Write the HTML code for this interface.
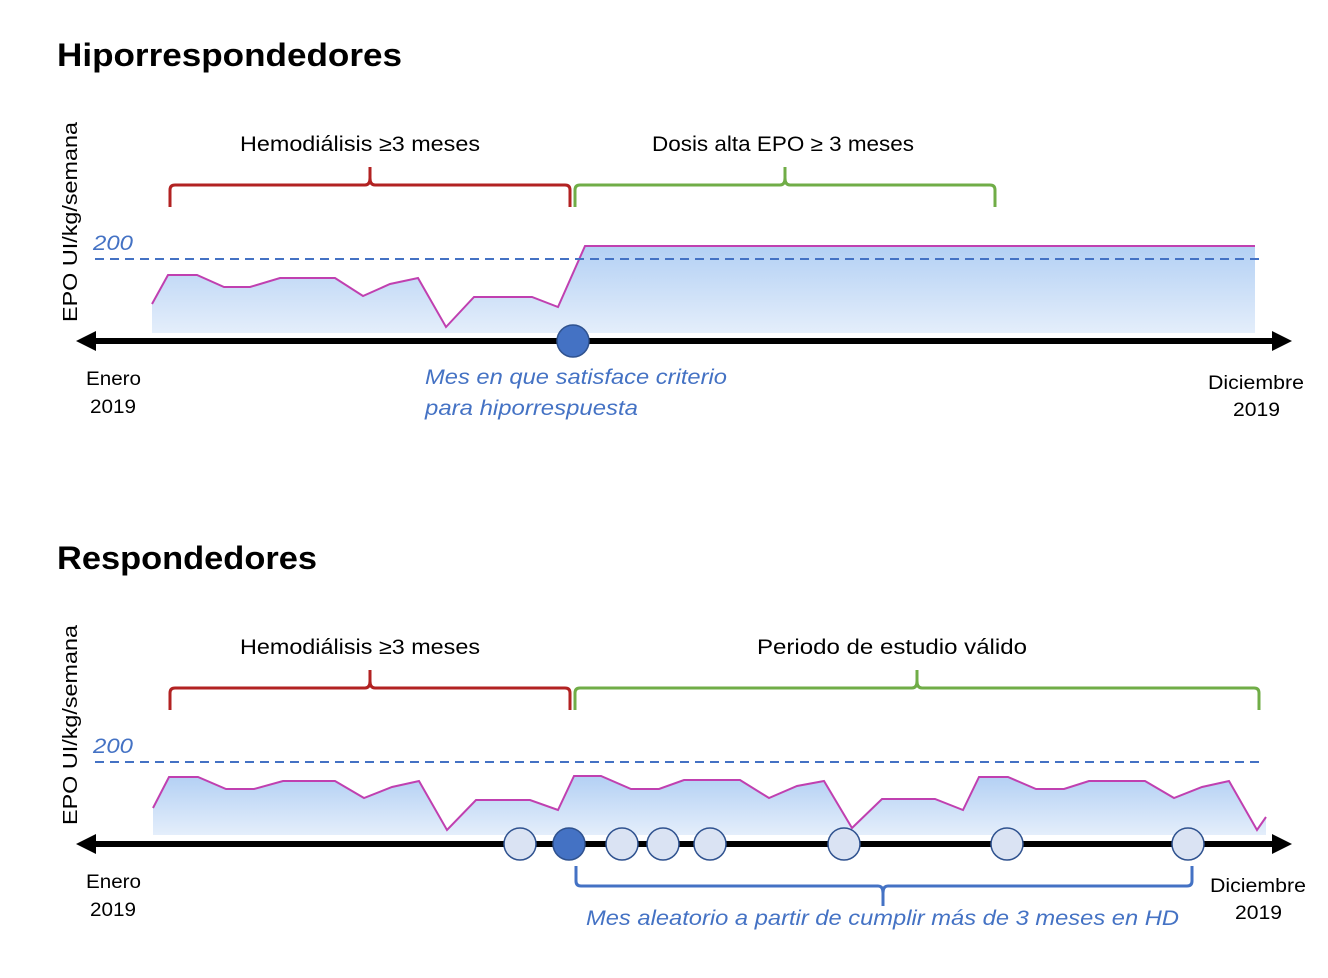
<!DOCTYPE html>
<html><head><meta charset="utf-8"><style>
body{margin:0;background:#fff}
svg{display:block;font-family:"Liberation Sans",sans-serif}
</style></head><body>
<svg width="1328" height="978" viewBox="0 0 1328 978">
<defs>
<linearGradient id="g" x1="0" y1="0" x2="0" y2="1">
<stop offset="0" stop-color="#b3d0f4"/><stop offset="1" stop-color="#e4eefb"/></linearGradient>
</defs>
<text x="57" y="66" font-size="32" font-weight="bold" fill="#000" textLength="345" lengthAdjust="spacingAndGlyphs">Hiporrespondedores</text>
<text x="57" y="569" font-size="32" font-weight="bold" fill="#000" textLength="260" lengthAdjust="spacingAndGlyphs">Respondedores</text>

<!-- Top chart -->
<text transform="translate(77,322) rotate(-90)" font-size="20" fill="#000" textLength="200" lengthAdjust="spacingAndGlyphs">EPO UI/kg/semana</text>
<text x="240" y="151" font-size="21" fill="#000" textLength="240" lengthAdjust="spacingAndGlyphs">Hemodiálisis ≥3 meses</text>
<text x="652" y="151" font-size="21" fill="#000" textLength="262" lengthAdjust="spacingAndGlyphs">Dosis alta EPO ≥ 3 meses</text>
<path d="M170,207 V190 Q170,185 175,185 H365 Q370,185 370,178 V167 M370,167 V178 Q370,185 375,185 H565 Q570,185 570,190 V207" fill="none" stroke="#b22222" stroke-width="3"/>
<path d="M575,207 V190 Q575,185 580,185 H780 Q785,185 785,178 V167 M785,167 V178 Q785,185 790,185 H990 Q995,185 995,190 V207" fill="none" stroke="#70ad47" stroke-width="3"/>
<path d="M152,333 L152,304 168,275 197,275 224,287 250,287 280,278 335,278 363,296 390,284 418,278 446,327 474,297 532,297 558,307 585,246 1255,246 1255,333 Z" fill="url(#g)"/>
<polyline points="152,304 168,275 197,275 224,287 250,287 280,278 335,278 363,296 390,284 418,278 446,327 474,297 532,297 558,307 585,246 1255,246" fill="none" stroke="#c040b0" stroke-width="2"/>
<line x1="95" y1="259" x2="1262" y2="259" stroke="#4472c4" stroke-width="2" stroke-dasharray="9,6"/>
<text x="93" y="250" font-size="21" font-style="italic" fill="#4472c4" textLength="40" lengthAdjust="spacingAndGlyphs">200</text>
<line x1="92" y1="341" x2="1278" y2="341" stroke="#000" stroke-width="6"/>
<polygon points="76,341 96,331 96,351" fill="#000"/>
<polygon points="1292,341 1272,331 1272,351" fill="#000"/>
<circle cx="573" cy="341" r="16" fill="#4472c4" stroke="#2f528f" stroke-width="1.5"/>
<text x="86" y="385" font-size="19" fill="#000" textLength="55" lengthAdjust="spacingAndGlyphs">Enero</text>
<text x="90" y="413" font-size="19" fill="#000" textLength="46" lengthAdjust="spacingAndGlyphs">2019</text>
<text x="1208" y="389" font-size="19" fill="#000" textLength="96" lengthAdjust="spacingAndGlyphs">Diciembre</text>
<text x="1233" y="416" font-size="19" fill="#000" textLength="47" lengthAdjust="spacingAndGlyphs">2019</text>
<text x="425" y="384" font-size="21" font-style="italic" fill="#4472c4" textLength="302" lengthAdjust="spacingAndGlyphs">Mes en que satisface criterio</text>
<text x="425" y="415" font-size="21" font-style="italic" fill="#4472c4" textLength="213" lengthAdjust="spacingAndGlyphs">para hiporrespuesta</text>

<!-- Bottom chart -->
<text transform="translate(77,825) rotate(-90)" font-size="20" fill="#000" textLength="200" lengthAdjust="spacingAndGlyphs">EPO UI/kg/semana</text>
<text x="240" y="654" font-size="21" fill="#000" textLength="240" lengthAdjust="spacingAndGlyphs">Hemodiálisis ≥3 meses</text>
<text x="757" y="654" font-size="21" fill="#000" textLength="270" lengthAdjust="spacingAndGlyphs">Periodo de estudio válido</text>
<path d="M170,710 V693 Q170,688 175,688 H365 Q370,688 370,681 V670 M370,670 V681 Q370,688 375,688 H565 Q570,688 570,693 V710" fill="none" stroke="#b22222" stroke-width="3"/>
<path d="M575,710 V693 Q575,688 580,688 H912 Q917,688 917,681 V670 M917,670 V681 Q917,688 922,688 H1254 Q1259,688 1259,693 V710" fill="none" stroke="#70ad47" stroke-width="3"/>
<path d="M153,835 L153,808 169,777 198,777 226,789 254,789 283,781 335,781 364,798 392,787 419,781 447,830 476,800 530,800 558,810 574,776 601,776 631,789 659,789 684,780 740,780 769,798 797,786 824,781 852,828 882,799 935,799 963,810 979,777 1008,777 1036,789 1064,789 1089,781 1145,781 1174,798 1202,787 1229,781 1257,830 1266,817 1266,835 Z" fill="url(#g)"/>
<polyline points="153,808 169,777 198,777 226,789 254,789 283,781 335,781 364,798 392,787 419,781 447,830 476,800 530,800 558,810 574,776 601,776 631,789 659,789 684,780 740,780 769,798 797,786 824,781 852,828 882,799 935,799 963,810 979,777 1008,777 1036,789 1064,789 1089,781 1145,781 1174,798 1202,787 1229,781 1257,830 1266,817" fill="none" stroke="#c040b0" stroke-width="2"/>
<line x1="95" y1="762" x2="1265" y2="762" stroke="#4472c4" stroke-width="2" stroke-dasharray="9,6"/>
<text x="93" y="753" font-size="21" font-style="italic" fill="#4472c4" textLength="40" lengthAdjust="spacingAndGlyphs">200</text>
<line x1="92" y1="844" x2="1278" y2="844" stroke="#000" stroke-width="6"/>
<polygon points="76,844 96,834 96,854" fill="#000"/>
<polygon points="1292,844 1272,834 1272,854" fill="#000"/>
<g fill="#dae3f3" stroke="#2f528f" stroke-width="1.5">
<circle cx="520" cy="844" r="16"/><circle cx="622" cy="844" r="16"/><circle cx="663" cy="844" r="16"/><circle cx="710" cy="844" r="16"/><circle cx="844" cy="844" r="16"/><circle cx="1007" cy="844" r="16"/><circle cx="1188" cy="844" r="16"/>
</g>
<circle cx="569" cy="844" r="16" fill="#4472c4" stroke="#2f528f" stroke-width="1.5"/>
<path d="M576,866 V881 Q576,886 581,886 H878 Q883,886 883,893 V906 M883,906 V893 Q883,886 888,886 H1187 Q1192,886 1192,881 V866" fill="none" stroke="#4472c4" stroke-width="3"/>
<text x="86" y="888" font-size="19" fill="#000" textLength="55" lengthAdjust="spacingAndGlyphs">Enero</text>
<text x="90" y="916" font-size="19" fill="#000" textLength="46" lengthAdjust="spacingAndGlyphs">2019</text>
<text x="1210" y="892" font-size="19" fill="#000" textLength="96" lengthAdjust="spacingAndGlyphs">Diciembre</text>
<text x="1235" y="919" font-size="19" fill="#000" textLength="47" lengthAdjust="spacingAndGlyphs">2019</text>
<text x="586" y="925" font-size="21" font-style="italic" fill="#4472c4" textLength="593" lengthAdjust="spacingAndGlyphs">Mes aleatorio a partir de cumplir más de 3 meses en HD</text>
</svg>
</body></html>
